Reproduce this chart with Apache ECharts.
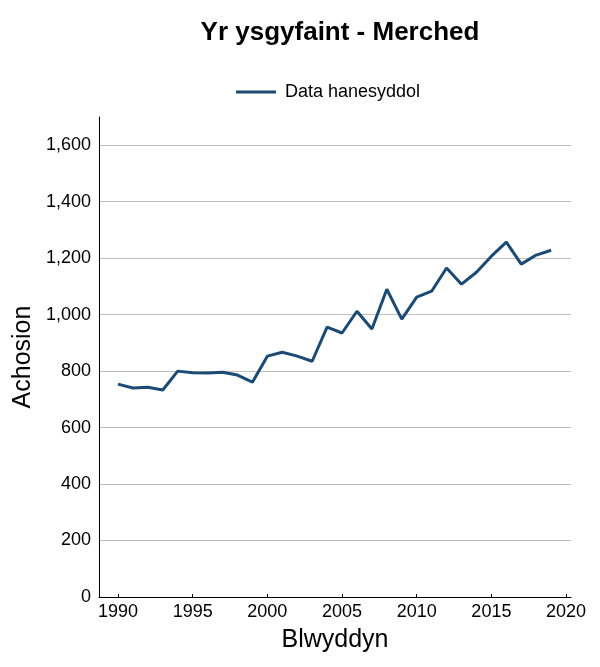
<!DOCTYPE html>
<html>
<head>
<meta charset="utf-8">
<script src="https://cdn.jsdelivr.net/npm/echarts@6/dist/echarts.min.js"></script>
<style>html,body{margin:0;padding:0;background:#fff}#c{width:600px;height:667px}</style>
</head>
<body>
<div id="c"></div>
<script>
const years = [1990,1991,1992,1993,1994,1995,1996,1997,1998,1999,2000,2001,2002,2003,2004,2005,2006,2007,2008,2009,2010,2011,2012,2013,2014,2015,2016,2017,2018,2019];
const cases = [754,740,743,733,800,794,793,796,786,761,853,867,853,835,956,935,1012,949,1090,984,1062,1083,1165,1108,1150,1207,1257,1179,1211,1228];
const xTicks = [1990,1995,2000,2005,2010,2015,2020];
const yTicks = [0,200,400,600,800,1000,1200,1400,1600];
const seriesName = 'Data hanesyddol';

const font = 'Liberation Sans, Arial, sans-serif';
const chart = echarts.init(document.getElementById('c'), null, {renderer:'canvas'});
chart.setOption({
  animation:false,
  title:{text:'Yr ysgyfaint - Merched', left:335, top:15, textAlign:'center',
    textStyle:{fontFamily:font, fontSize:26, fontWeight:'bold', color:'#000'}},
  legend:{data:[seriesName], top:78, left:231, itemWidth:40, itemHeight:3, itemGap:10,
    textStyle:{fontFamily:font, fontSize:18, color:'#000', padding:[0,0,0,4]},
    icon:'rect'},
  grid:{left:99, right:29, top:117, bottom:70, containLabel:false},
  xAxis:{type:'value', min:1988.73, max:2020.33,
    name:'Blwyddyn', nameLocation:'middle', nameGap:31, nameMoveOverlap:false,
    nameTextStyle:{fontFamily:font, fontSize:25, color:'#000'},
    axisLine:{show:true, lineStyle:{color:'#000', width:1}},
    axisTick:{show:true, inside:true, length:3, lineStyle:{color:'#000'}, customValues:xTicks},
    axisLabel:{fontFamily:font, fontSize:18, color:'#000', margin:6, customValues:xTicks, formatter:v=>String(v)},
    splitLine:{show:false}},
  yAxis:{type:'value', min:0, max:1700,
    name:'Achosion', nameLocation:'middle', nameGap:63, nameRotate:90, nameMoveOverlap:false,
    nameTextStyle:{fontFamily:font, fontSize:25, color:'#000'},
    axisLine:{show:true, onZero:false, lineStyle:{color:'#000', width:1}},
    axisTick:{show:false, customValues:yTicks},
    axisLabel:{fontFamily:font, fontSize:18, color:'#000', margin:8, customValues:yTicks,
      formatter:v=>v.toLocaleString('en-US')},
    splitLine:{show:true, lineStyle:{color:'#bfbfbf', width:1}}},
  series:[{name:seriesName, type:'line', data:years.map((y,i)=>[y,cases[i]]),
    showSymbol:false, lineStyle:{color:'#1b4a72', width:3}, itemStyle:{color:'#1b4a72'}}]
});
</script>
</body>
</html>
